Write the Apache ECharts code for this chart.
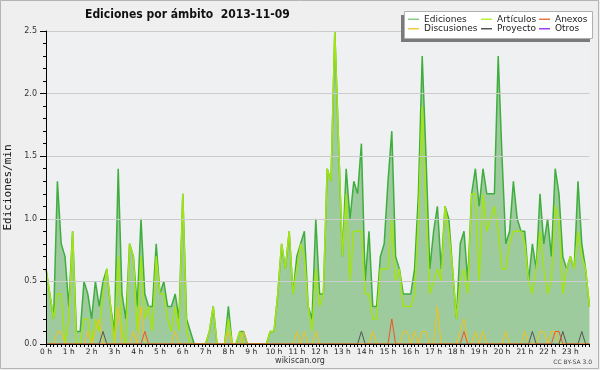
<!DOCTYPE html>
<html><head><meta charset="utf-8">
<script src="https://cdn.jsdelivr.net/npm/echarts@6/dist/echarts.min.js"></script>
<style>html,body{margin:0;padding:0;background:#efefef}#c{width:600px;height:370px}</style>
</head><body><div id="c"></div>
<script>
const titleText = 'Ediciones por ámbito  2013-11-09';
const hourLabels = ['0 h','1 h','2 h','3 h','4 h','5 h','6 h','7 h','8 h','9 h','10 h','11 h','12 h','13 h','14 h','15 h','16 h','17 h','18 h','19 h','20 h','21 h','22 h','23 h'];
const yTicks = [0, 0.5, 1.0, 1.5, 2.0, 2.5];

const ediciones = [
0.6,0.4,0.2,1.3,0.8,0.7, 0.3,0.9,0.1,0.1,0.5,0.4, 0.2,0.5,0.3,0.5,0.6,0.3,
0.1,1.4,0.4,0.2,0.8,0.7, 0.3,1.0,0.4,0.3,0.3,0.8, 0.4,0.5,0.3,0.3,0.4,0.2,
1.2,0.2,0.1,0,0,0, 0,0.1,0.3,0,0,0, 0.3,0,0,0.1,0.1,0,
0,0,0,0,0,0.1, 0.1,0.4,0.8,0.6,0.9,0.4, 0.7,0.8,0.9,0.3,0.2,1.0,
0.4,0.4,1.4,1.3,2.5,1.6, 0.7,1.4,1.0,1.3,1.2,1.6, 0.5,0.9,0.3,0.3,0.7,0.8,
1.3,1.7,0.7,0.6,0.4,0.4, 0.4,0.6,1.2,2.3,1.5,0.6, 0.9,1.1,0.6,1.1,1.0,0.6,
0.2,0.8,0.9,0.5,1.2,1.4, 1.1,1.4,1.2,1.2,1.2,2.3, 1.5,0.8,0.9,1.3,1.0,0.9,
0.9,0.5,0.8,0.6,1.2,0.8, 1.0,0.7,1.4,1.2,0.7,0.6, 0.7,0.6,1.3,0.8,0.6,0.3
];
const articulos = [
0.6,0.4,0.2,0.4,0.4,0, 0.2,0.9,0,0,0.2,0.2, 0,0.2,0.1,0.4,0.6,0.3,
0,0.7,0.1,0,0.8,0.7, 0.1,0.7,0.2,0.3,0.1,0.7, 0.4,0.4,0.2,0.1,0.3,0.1,
1.2,0.1,0,0,0,0, 0,0.1,0.3,0,0,0, 0.2,0,0,0.1,0,0,
0,0,0,0,0,0.1, 0.1,0.4,0.8,0.6,0.9,0.4, 0.6,0.8,0.7,0.3,0.1,0.6,
0.3,0.4,1.4,1.3,2.5,1.6, 0.7,1.2,0.5,0.9,0.9,0.9, 0.4,0.4,0.2,0.2,0.6,0.6,
0.6,1.0,0.5,0.6,0.3,0.3, 0.3,0.4,1.0,1.9,1.1,0.4, 0.5,0.6,0.5,1.1,0.9,0.6,
0.2,0.5,0.6,0.4,1.2,1.2, 0.5,1.2,0.9,1.0,1.1,0.9, 0.6,0.6,0.8,0.9,0.9,0.9,
0.8,0.5,0.4,0.6,0.9,0.6, 0.4,0.5,1.1,1.0,0.4,0.6, 0.7,0.6,0.9,0.7,0.6,0.3
];
const discusiones = [
0,0,0,0.1,0.1,0, 0,0,0,0,0,0.1, 0,0.1,0.2,0,0,0,
0,0.3,0,0,0,0.1, 0,0.3,0,0,0,0, 0,0,0,0,0.1,0,
0,0,0,0,0,0, 0,0,0,0,0,0, 0.1,0,0,0,0.1,0,
0,0,0,0,0,0, 0,0,0,0,0,0, 0.1,0,0.1,0,0,0.1,
0,0,0,0,0,0, 0,0,0,0,0,0, 0,0,0.1,0,0,0,
0,0,0,0,0.1,0.1, 0,0.1,0,0.1,0.1,0, 0,0.3,0,0,0,0,
0,0.1,0.2,0,0,0.1, 0,0.1,0,0,0,0, 0,0.1,0,0,0,0,
0.1,0,0,0,0.1,0.1, 0,0.1,0.1,0,0,0, 0,0,0,0,0,0
];
const proyecto = [
0,0,0,0,0,0, 0,0,0,0,0,0, 0,0,0,0.1,0,0,
0,0,0,0,0,0, 0,0,0,0,0,0, 0,0,0,0,0,0,
0,0,0,0,0,0, 0,0,0,0,0,0, 0,0,0,0,0,0,
0,0,0,0,0,0, 0,0,0,0,0,0, 0,0,0,0,0,0,
0,0,0,0,0,0, 0,0,0,0,0,0.1, 0,0,0,0,0,0,
0,0,0,0,0,0, 0,0,0,0,0,0, 0,0,0,0,0,0,
0,0,0,0,0,0, 0,0,0,0,0,0, 0,0,0,0,0,0,
0,0,0.1,0,0,0, 0,0,0,0,0.1,0, 0,0,0,0.1,0,0
];
const anexos = [
0,0,0,0,0,0, 0,0,0,0,0,0, 0,0,0,0,0,0,
0,0,0,0,0,0, 0,0,0.1,0,0,0, 0,0,0,0,0,0,
0,0,0,0,0,0, 0,0,0,0,0,0, 0,0,0,0,0,0,
0,0,0,0,0,0, 0,0,0,0,0,0, 0,0,0,0,0,0,
0,0,0,0,0,0, 0,0,0,0,0,0, 0,0,0,0,0,0,
0,0.2,0,0,0,0, 0,0,0,0,0,0, 0,0,0,0,0,0,
0,0,0.1,0,0,0, 0,0,0,0,0,0, 0,0,0,0,0,0,
0,0,0,0,0,0, 0,0,0.1,0.1,0,0, 0,0,0,0,0,0
];
const otros = [];

const categories = [];
for (let h = 0; h < hourLabels.length; h++) {
  for (let m = 0; m < 6; m++) categories.push(m === 0 ? hourLabels[h] : '');
}

const FONT = 'DejaVu Sans';
const chart = echarts.init(document.getElementById('c'));
const legendText = {fontSize: 9, fontFamily: FONT, color: '#222', lineHeight: 9.5};
const legendBase = {orient: 'vertical', top: 14.5, itemGap: 0, itemWidth: 11, itemHeight: 1.5, icon: 'rect', selectedMode: false, padding: 0, textStyle: legendText, z: 20};

chart.setOption({
  backgroundColor: '#efefef',
  animation: false,
  title: {text: titleText, left: 85, top: 9, padding: 0,
    textStyle: {fontSize: 12, fontWeight: 'bold', fontFamily: 'DejaVu Sans Condensed, DejaVu Sans', color: '#111'}},
  legend: [
    Object.assign({}, legendBase, {left: 408, data: [{name:'Ediciones', itemStyle:{color:'#88cc88'}}, 'Discusiones']}),
    Object.assign({}, legendBase, {left: 481, data: ['Artículos', 'Proyecto']}),
    Object.assign({}, legendBase, {left: 539, data: ['Anexos', 'Otros']})
  ],
  graphic: {elements: [
    {type: 'rect', shape: {x: 0.5, y: 0.5, width: 598, height: 368}, style: {fill: 'none', stroke: '#b4b4b4', lineWidth: 1}, z: 0, silent: true},
    {type: 'rect', shape: {x: 401, y: 15, width: 189, height: 27}, style: {fill: '#7a7a7a'}, z: 10, silent: true},
    {type: 'rect', shape: {x: 404.5, y: 11.5, width: 188, height: 27}, style: {fill: '#ffffff', stroke: '#b0b0b0', lineWidth: 1}, z: 11, silent: true},
    {type: 'text', left: 'center', top: 357, style: {text: 'wikiscan.org', fontSize: 8, fontFamily: FONT, fill: '#333'}, z: 20},
    {type: 'text', right: 8, top: 359, style: {text: 'CC BY-SA 3.0', fontSize: 6, fontFamily: FONT, fill: '#444'}, z: 20}
  ]},
  grid: {left: 46, right: 10.6, top: 31, bottom: 26, containLabel: false, outerBoundsMode: 'none', show: true, backgroundColor: '#eff0f1', borderWidth: 0},
  xAxis: {
    type: 'category', data: categories, boundaryGap: false, z: 5,
    axisLine: {lineStyle: {color: '#000', width: 1}},
    axisTick: {interval: 0, length: 3, lineStyle: {color: '#000'}},
    axisLabel: {interval: 0, margin: 4, fontSize: 7.5, fontFamily: FONT, color: '#222', showMinLabel: true, showMaxLabel: true, hideOverlap: false},
    splitLine: {show: false}
  },
  yAxis: {
    type: 'value', min: 0, max: 2.5, interval: 0.5, z: 5,
    name: 'Ediciones/min', nameLocation: 'middle', nameRotate: 90, nameGap: 32,
    nameTextStyle: {fontSize: 11, fontFamily: 'DejaVu Sans Mono', color: '#111'},
    axisLine: {show: true, lineStyle: {color: '#000', width: 1}},
    axisTick: {show: true, length: 6, lineStyle: {color: '#000'}},
    minorTick: {show: true, splitNumber: 5, length: 3, lineStyle: {color: '#000'}},
    axisLabel: {margin: 9, fontSize: 8, fontFamily: FONT, color: '#333', formatter: v => v.toFixed(1)},
    splitLine: {show: true, lineStyle: {color: '#cccccc', width: 1}}
  },
  series: [
    {name: 'Ediciones', type: 'line', data: ediciones, symbol: 'none', z: 2,
      lineStyle: {color: '#3fae3f', width: 1.5}, itemStyle: {color: '#3fae3f'},
      areaStyle: {color: '#9dcb9d', opacity: 1}},
    {name: 'Artículos', type: 'line', data: articulos, symbol: 'none', z: 3,
      lineStyle: {color: '#a4e414', width: 1.5}, itemStyle: {color: '#b8ee40'}},
    {name: 'Discusiones', type: 'line', data: discusiones, symbol: 'none', z: 3,
      lineStyle: {color: '#f2c21b', width: 1}, itemStyle: {color: '#f2c840'}},
    {name: 'Proyecto', type: 'line', data: proyecto, symbol: 'none', z: 3,
      lineStyle: {color: '#555555', width: 1}, itemStyle: {color: '#555555'}},
    {name: 'Anexos', type: 'line', data: anexos, symbol: 'none', z: 3,
      lineStyle: {color: '#ee5522', width: 1}, itemStyle: {color: '#ee7744'}},
    {name: 'Otros', type: 'line', data: otros, symbol: 'none', z: 3,
      lineStyle: {color: '#9933ee', width: 1}, itemStyle: {color: '#9944ee'}}
  ]
});
</script></body></html>
